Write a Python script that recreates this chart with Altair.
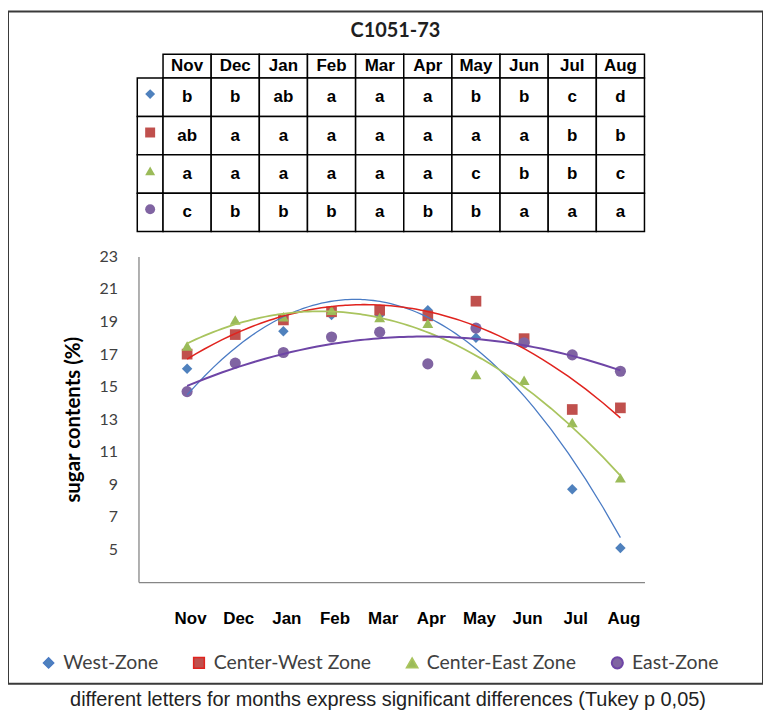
import altair as alt
import pandas as pd

# ---------------- data ----------------
months = ["Nov", "Dec", "Jan", "Feb", "Mar", "Apr", "May", "Jun", "Jul", "Aug"]
zones = ["West-Zone", "Center-West Zone", "Center-East Zone", "East-Zone"]

west = [16.1, 16.45, 18.4, 19.4, 19.4, 19.7, 18.0, 17.7, 8.7, 5.1]
center_west = [17.0, 18.2, 19.1, 19.6, 19.7, 19.35, 20.25, 17.95, 13.6, 13.7]
center_east = [17.5, 19.1, 19.3, 19.7, 19.25, 18.9, 15.75, 15.4, 12.8, 9.4]
east = [14.7, 16.45, 17.1, 18.05, 18.35, 16.4, 18.6, 17.7, 16.95, 15.95]

west_letters = ["b", "b", "ab", "a", "a", "a", "b", "b", "c", "d"]
center_west_letters = ["ab", "a", "a", "a", "a", "a", "a", "a", "b", "b"]
center_east_letters = ["a", "a", "a", "a", "a", "a", "c", "b", "b", "c"]
east_letters = ["c", "b", "b", "b", "a", "b", "b", "a", "a", "a"]

y_ticks = [5, 7, 9, 11, 13, 15, 17, 19, 21, 23]

chart_title = "C1051-73"
y_title = "sugar contents (%)"
caption = "different letters for months express significant differences (Tukey p 0,05)"

# ---------------- styles ----------------
zone_colors = ["#4F81BD", "#C0504D", "#9BBB59", "#8064A2"]
zone_shapes = ["diamond", "square", "triangle-up", "circle"]
zone_sizes = [110, 125, 115, 155]
trend_colors = ["#4A7BC4", "#E0231E", "#A9C45E", "#6E45A6"]
trend_widths = [1.3, 2.0, 1.3, 1.8]

series = [west, center_west, center_east, east]
letter_sets = [west_letters, center_west_letters, center_east_letters, east_letters]

rows = []
for z, vals in zip(zones, series):
    for i, v in enumerate(vals):
        rows.append({"zone": z, "idx": i, "month": months[i], "value": v})
df = pd.DataFrame(rows)

cells = []
for r in range(-1, 4):
    for c in range(-1, 10):
        if r == -1 and c == -1:
            continue
        cells.append({"row": r, "col": c})
cells_df = pd.DataFrame(cells)

texts = [{"row": -1, "col": i, "label": m} for i, m in enumerate(months)]
for r, lets in enumerate(letter_sets):
    for i, l in enumerate(lets):
        texts.append({"row": r, "col": i, "label": l})
texts_df = pd.DataFrame(texts)

sym_df = pd.DataFrame({"zone": zones, "row": list(range(4))})

HEADER = 0.62
SYM_LEFT = -1.035

X_SCALE = alt.Scale(domain=[-1.01, 9.5], range=[131, 639], nice=False, zero=False)
Y_SCALE = alt.Scale(domain=[3, 23], range=[573, 246], nice=False, zero=False)
T_SCALE = alt.Scale(domain=[-HEADER, 4], range=[43, 221], nice=False, zero=False)

color_scale = alt.Scale(domain=zones, range=zone_colors)
shape_scale = alt.Scale(domain=zones, range=zone_shapes)

legend = alt.Legend(
    title=None, orient="none", legendX=31, legendY=644, direction="horizontal",
    columns=4, columnPadding=31, labelOffset=5, labelFont="Lato", labelFontSize=19.5,
    labelColor="#404040", symbolSize=80, symbolStrokeWidth=0, padding=0,
)

x_axis = alt.Axis(
    values=list(range(10)), labelExpr=f"{months}[datum.value]", orient="bottom",
    offset=-102, ticks=False, grid=False, domainColor="#868686", domainWidth=1.3,
    labelFont="Liberation Sans", labelFontWeight="bold", labelFontSize=17,
    labelColor="#000000", labelPadding=29, labelOffset=3, labelFlush=False,
    labelOverlap=False, title=caption, titleFont="Liberation Sans",
    titleFontSize=20, titleFontWeight="normal", titleColor="#222222", titlePadding=63,
    titleX=381,
)
y_axis = alt.Axis(
    values=y_ticks, orient="left", offset=-131, ticks=False, grid=False,
    domainColor="#868686", domainWidth=1.3, labelFont="Lato", labelFontSize=16,
    labelColor="#404040", labelPadding=21, title=y_title, titleFont="Lato",
    titleFontSize=20.5, titleFontWeight="bold", titleColor="#000000", titlePadding=16,
)

points = alt.Chart(df).mark_point(filled=True, opacity=1, strokeWidth=0).encode(
    x=alt.X("idx:Q", scale=X_SCALE, axis=x_axis),
    y=alt.Y("value:Q", scale=Y_SCALE, axis=y_axis),
    color=alt.Color("zone:N", scale=color_scale, legend=legend),
    shape=alt.Shape("zone:N", scale=shape_scale, legend=legend),
    size=alt.Size("zone:N", scale=alt.Scale(domain=zones, range=zone_sizes), legend=None),
)

lines = alt.Chart(df).transform_regression(
    "idx", "value", groupby=["zone"], method="poly", order=2
).mark_line().encode(
    x=alt.X("idx:Q", scale=X_SCALE, axis=x_axis),
    y=alt.Y("value:Q", scale=Y_SCALE, axis=y_axis),
    stroke=alt.Stroke("zone:N", scale=alt.Scale(domain=zones, range=trend_colors), legend=None),
    strokeWidth=alt.StrokeWidth("zone:O", scale=alt.Scale(domain=zones, range=trend_widths), legend=None),
    detail="zone:N",
)

plot = alt.layer(points, lines)

cell_rects = alt.Chart(cells_df).transform_calculate(
    x0=f"datum.col < 0 ? {SYM_LEFT} : datum.col - 0.5",
    x1="datum.col + 0.5",
    y0=f"datum.row < 0 ? {-HEADER} : datum.row",
    y1="datum.row + 1",
).mark_rect(fill="white", stroke="#000000", strokeWidth=1.5).encode(
    x=alt.X("x0:Q", scale=X_SCALE, axis=x_axis),
    x2="x1:Q",
    y=alt.Y("y0:Q", scale=T_SCALE, axis=None),
    y2="y1:Q",
)

cell_texts = alt.Chart(texts_df).transform_calculate(
    yc=f"datum.row < 0 ? {-HEADER / 2} : datum.row + 0.5"
).mark_text(font="Liberation Sans", fontWeight="bold", fontSize=17, color="#000000", baseline="middle").encode(
    x=alt.X("col:Q", scale=X_SCALE, axis=x_axis),
    y=alt.Y("yc:Q", scale=T_SCALE, axis=None),
    text="label:N",
)

cell_syms = alt.Chart(sym_df).transform_calculate(
    xc=f"({SYM_LEFT} - 0.5) / 2", yc="datum.row + 0.42"
).mark_point(filled=True, opacity=1, strokeWidth=0, size=100).encode(
    x=alt.X("xc:Q", scale=X_SCALE, axis=x_axis),
    y=alt.Y("yc:Q", scale=T_SCALE, axis=None),
    color=alt.Color("zone:N", scale=color_scale, legend=legend),
    shape=alt.Shape("zone:N", scale=shape_scale, legend=legend),
)

table = alt.layer(cell_rects, cell_texts, cell_syms)

chart = alt.layer(plot, table).resolve_scale(y="independent").properties(
    width=758, height=675,
    padding={"left": 0, "top": 2, "right": 0, "bottom": 0},
    background="white",
    title=alt.TitleParams(chart_title, orient="top", anchor="middle", offset=-30, dx=10,
                          font="Lato", fontSize=20, fontWeight="bold", color="#1F1F1F"),
).configure_view(stroke="#3A3A3A", strokeWidth=2)

chart.save("out.html", embed_options={"renderer": "svg", "actions": False})
